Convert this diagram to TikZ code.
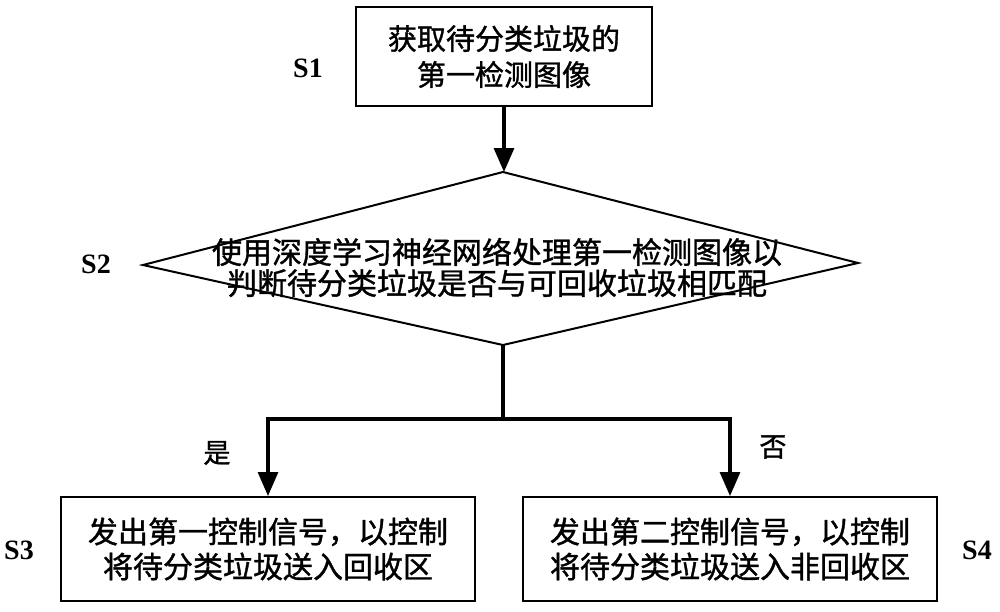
\documentclass[tikz,border=0pt]{standalone}
\usepackage{fontspec}
\setmainfont{Liberation Serif}
\newfontfamily\cjk[FakeBold=1.2]{Noto Sans CJK SC}
\usetikzlibrary{arrows.meta}
\begin{document}
\begin{tikzpicture}[x=0.5pt,y=-0.5pt,
  box/.style={draw, line width=1pt, inner sep=0pt, align=center, font=\cjk\fontsize{14.5}{18}\selectfont},
  dtext/.style={inner sep=0pt, align=center, font=\cjk\fontsize{15}{15.5}\selectfont},
  lbl/.style={font=\bfseries\fontsize{14}{16}\selectfont},
  yn/.style={font=\cjk\fontsize{13.5}{15}\selectfont},
  arr/.style={line width=1.6pt, -{Triangle[length=12pt,width=10pt]}},
  ln/.style={line width=1.6pt}]
\useasboundingbox (0,0) rectangle (1000,611);
\node[box, minimum width=148pt, minimum height=49.5pt] (s1) at (504,56.5) {获取待分类垃圾的\\第一检测图像};
\coordinate (dl) at (143,265);
\coordinate (dt) at (503,172);
\coordinate (dr) at (858,263);
\coordinate (db) at (503,345);
\draw[line width=1pt] (dl) -- (dt) -- (dr) -- (db) -- cycle;
\node[dtext] (s2) at (497,267.5) {使用深度学习神经网络处理第一检测图像以\\判断待分类垃圾是否与可回收垃圾相匹配};
\node[box, minimum width=207pt, minimum height=52pt, font=\cjk\fontsize{15}{17.5}\selectfont] (s3) at (268,549) {发出第一控制信号，以控制\\将待分类垃圾送入回收区};
\node[box, minimum width=207pt, minimum height=52pt, font=\cjk\fontsize{15}{17.5}\selectfont] (s4) at (730,549) {发出第二控制信号，以控制\\将待分类垃圾送入非回收区};
\node[lbl] (l1) at (308,68) {S1};
\node[lbl] (l2) at (96,264) {S2};
\node[lbl] (l3) at (19,550) {S3};
\node[lbl] (l4) at (977,550) {S4};
\node[yn] (yes) at (217,453) {是};
\node[yn] (no) at (773,447) {否};
\coordinate (j) at (503,419);
\draw[arr] (s1.south) -- (s1.south |- dt);
\draw[ln] (db) -- (j);
\draw[arr] (j) -| (s3.north);
\draw[arr] (j) -| (s4.north);
\end{tikzpicture}
\end{document}
